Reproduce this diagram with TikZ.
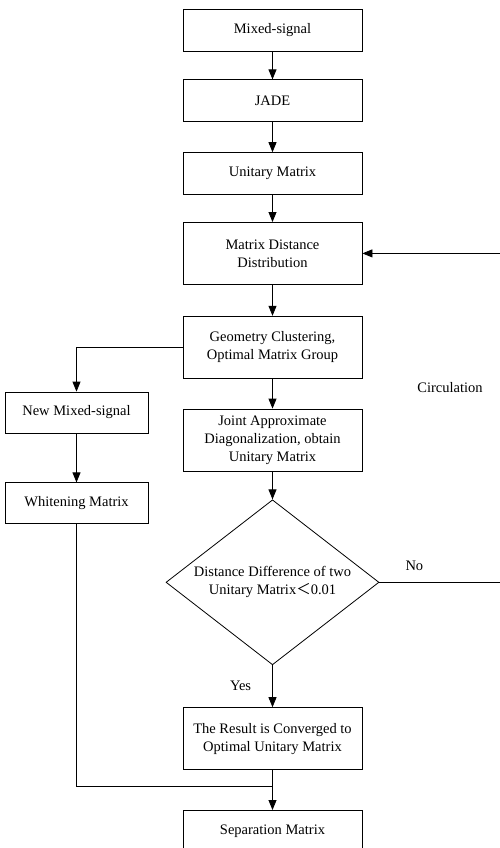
\documentclass[tikz,border=0pt]{standalone}
\usepackage{fontspec}
\setmainfont{Liberation Serif}
\newfontfamily\cjk{Noto Sans CJK SC}
\usepackage{tikz}
\usetikzlibrary{positioning,arrows.meta,shapes.geometric,calc}
\tikzset{
  box/.style={draw,align=center,minimum width=179pt,minimum height=42pt,inner sep=2pt,line width=0.8pt},
  tall/.style={box,minimum height=62pt},
  side/.style={box,minimum width=143pt,minimum height=41pt},
  decide/.style={draw,diamond,aspect=1.29,align=center,minimum width=213pt,minimum height=165pt,inner sep=1pt,line width=0.8pt},
  lbl/.style={inner sep=0pt},
  wire/.style={line width=0.8pt},
  arr/.style={-{Triangle[length=10pt,width=8pt]},line width=0.8pt},
}

\begin{document}
\begin{tikzpicture}[x=1pt,y=-1pt,font=\fontsize{14.5}{18}\selectfont]
\useasboundingbox (0,0) rectangle (499,848);
\node[box] (mix) at (272.5,30) {Mixed-signal};
\node[box, below=28pt of mix] (jade) {JADE};
\node[box, below=30pt of jade] (unit) {Unitary Matrix};
\node[tall, below=27pt of unit] (mdd) {Matrix Distance\\Distribution};
\node[tall, below=31pt of mdd] (geo) {Geometry Clustering,\\Optimal Matrix Group};
\node[tall, below=30pt of geo] (joint) {Joint Approximate\\Diagonalization, obtain\\Unitary Matrix};
\node[decide, below=28pt of joint] (check) {Distance Difference of two\\Unitary Matrix{\cjk ＜}0.01};
\node[tall, below=42pt of check] (conv) {The Result is Converged to\\Optimal Unitary Matrix};
\node[box, below=40pt of conv] (sep) {Separation Matrix};
\node[side] (newmix) at (76.5,412.5) {New Mixed-signal};
\node[side, below=49pt of newmix] (white) {Whitening Matrix};
\node (circ) at (450,388) {Circulation};
\coordinate[below=16pt of conv] (join);
\coordinate (edge) at (500,580);
\draw[arr] (mix) -- (jade);
\draw[arr] (jade) -- (unit);
\draw[arr] (unit) -- (mdd);
\draw[arr] (mdd) -- (geo);
\draw[arr] (geo) -- (joint);
\draw[arr] (joint) -- (check);
\draw[arr] (check) -- node[left=21pt,lbl] {Yes} (conv);
\draw[arr] (conv) -- (sep);
\draw[arr] (geo.west) -| (newmix.north);
\draw[arr] (newmix) -- (white);
\draw[wire] (white) |- (join);
\draw[arr] (check.east) -- node[pos=0.29,above=11pt,lbl] {No} (check.east -| edge) |- (mdd.east);
\end{tikzpicture}
\end{document}
